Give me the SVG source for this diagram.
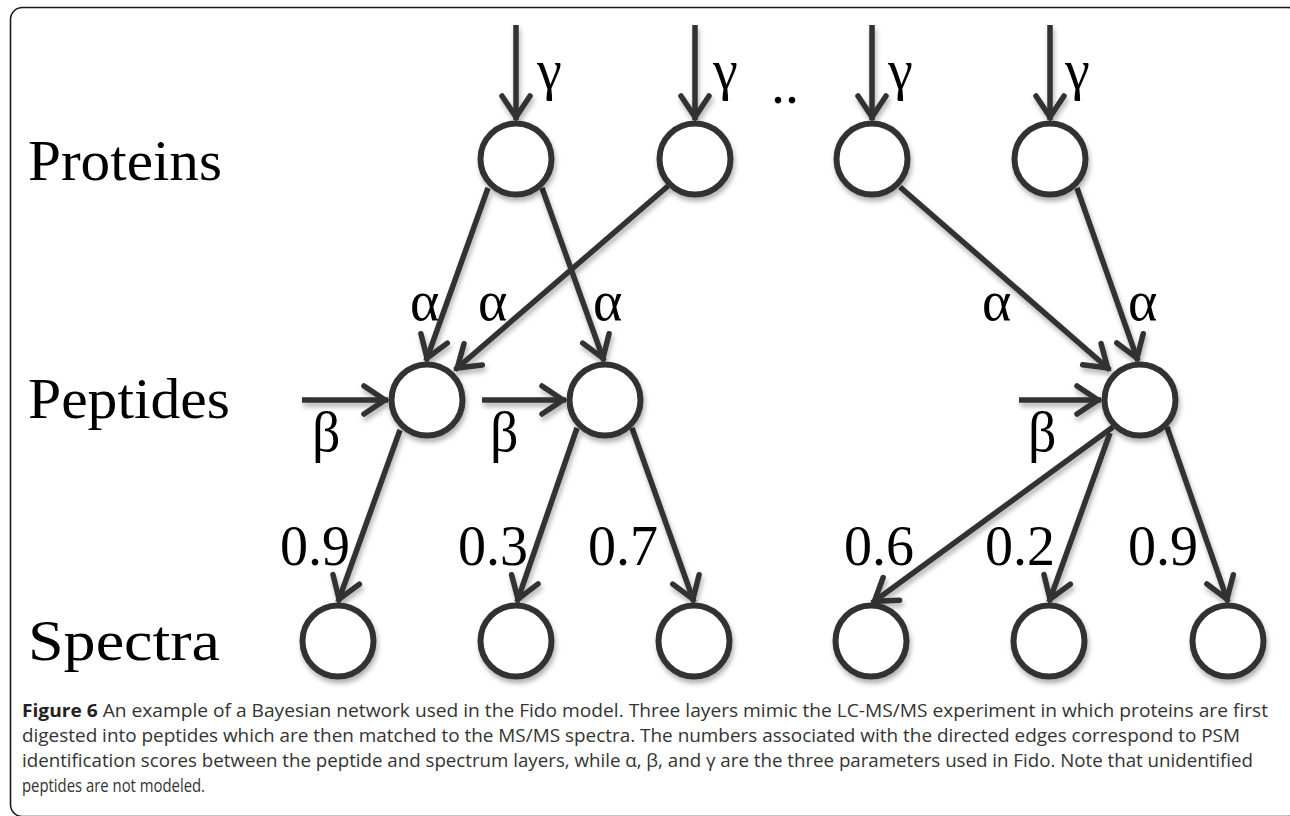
<svg xmlns="http://www.w3.org/2000/svg" width="1290" height="816" viewBox="0 0 1290 816">
<style>
.bg{fill:#ffffff}
.frame{fill:none;stroke:#1a1a1a;stroke-width:1.6}
.node{fill:#ffffff;stroke:#333333;stroke-width:6}
.edge{fill:none;stroke:#333333;stroke-width:5.5;stroke-linecap:butt}
.lbl{font-family:"Liberation Serif","Times New Roman",serif;font-size:56px;fill:#000000}
.sym{font-family:"Liberation Serif","Times New Roman",serif;font-size:56px;fill:#000000}
.cap{font-family:"Open Sans","Noto Sans",sans-serif;font-size:18px;fill:#333333}
.capb{font-weight:bold;fill:#222222}
.shadow{filter:url(#sh)}
</style>
<defs>
<filter id="sh" x="-20%" y="-20%" width="140%" height="140%">
<feDropShadow dx="1.5" dy="4" stdDeviation="2.5" flood-color="#000000" flood-opacity="0.3"/>
</filter>
<marker id="ah" markerUnits="userSpaceOnUse" markerWidth="40" markerHeight="40" refX="0" refY="0" orient="auto" overflow="visible">
<path d="M-24,-14 L-3,0 L-24,14" fill="none" stroke="#333333" stroke-width="5.5" stroke-linecap="round" stroke-linejoin="miter"/>
</marker>
</defs>
<rect class="bg" x="0" y="0" width="1290" height="816"/>
<rect class="frame" x="10.5" y="7.5" width="1290" height="809" rx="12" ry="12"/>

<g id="layer-labels">
<text class="lbl" x="28" y="180" textLength="194" lengthAdjust="spacingAndGlyphs">Proteins</text>
<text class="lbl" x="28" y="418" textLength="202" lengthAdjust="spacingAndGlyphs">Peptides</text>
<text class="lbl" x="28" y="660" textLength="192" lengthAdjust="spacingAndGlyphs">Spectra</text>
</g>

<g id="connectors" class="shadow">
<line class="edge" x1="516" y1="25" x2="516" y2="120" marker-end="url(#ah)"/>
<line class="edge" x1="695" y1="25" x2="695" y2="120" marker-end="url(#ah)"/>
<line class="edge" x1="872" y1="25" x2="872" y2="120" marker-end="url(#ah)"/>
<line class="edge" x1="1050" y1="25" x2="1050" y2="120" marker-end="url(#ah)"/>
<line class="edge" x1="488" y1="188" x2="426" y2="361" marker-end="url(#ah)"/>
<line class="edge" x1="542" y1="188" x2="604" y2="361" marker-end="url(#ah)"/>
<line class="edge" x1="668" y1="186" x2="455" y2="370" marker-end="url(#ah)"/>
<line class="edge" x1="900" y1="187" x2="1110" y2="370" marker-end="url(#ah)"/>
<line class="edge" x1="1077" y1="188" x2="1138" y2="361" marker-end="url(#ah)"/>
<line class="edge" x1="302" y1="400" x2="388" y2="400" marker-end="url(#ah)"/>
<line class="edge" x1="482" y1="400" x2="566" y2="400" marker-end="url(#ah)"/>
<line class="edge" x1="1019" y1="400" x2="1101" y2="400" marker-end="url(#ah)"/>
<line class="edge" x1="400" y1="430" x2="338" y2="602" marker-end="url(#ah)"/>
<line class="edge" x1="577" y1="428" x2="517" y2="602" marker-end="url(#ah)"/>
<line class="edge" x1="632" y1="428" x2="694" y2="602" marker-end="url(#ah)"/>
<line class="edge" x1="1113" y1="427" x2="872" y2="603" marker-end="url(#ah)"/>
<line class="edge" x1="1110" y1="433" x2="1049" y2="602" marker-end="url(#ah)"/>
<line class="edge" x1="1167" y1="427" x2="1228" y2="602" marker-end="url(#ah)"/>
</g>

<g id="connector-labels">
<text class="sym" x="537" y="89">γ</text>
<text class="sym" x="713" y="89">γ</text>
<text class="sym" x="888" y="89">γ</text>
<text class="sym" x="1065" y="89">γ</text>
<text class="sym" x="771" y="103">..</text>
<text class="sym" x="410" y="320">α</text>
<text class="sym" x="478" y="320">α</text>
<text class="sym" x="593" y="320">α</text>
<text class="sym" x="982" y="320">α</text>
<text class="sym" x="1128" y="320">α</text>
<text class="sym" x="312" y="451">β</text>
<text class="sym" x="490" y="451">β</text>
<text class="sym" x="1028" y="451">β</text>
<text class="sym" x="280" y="565">0.9</text>
<text class="sym" x="458" y="565">0.3</text>
<text class="sym" x="588" y="565">0.7</text>
<text class="sym" x="844" y="565">0.6</text>
<text class="sym" x="985" y="565">0.2</text>
<text class="sym" x="1128" y="565">0.9</text>
</g>

<g id="protein-1" class="shadow"><circle class="node" cx="516" cy="159" r="35.5"/></g>
<g id="protein-2" class="shadow"><circle class="node" cx="695" cy="159" r="35.5"/></g>
<g id="protein-3" class="shadow"><circle class="node" cx="872" cy="159" r="35.5"/></g>
<g id="protein-4" class="shadow"><circle class="node" cx="1050" cy="159" r="35.5"/></g>
<g id="peptide-1" class="shadow"><circle class="node" cx="427" cy="400" r="35.5"/></g>
<g id="peptide-2" class="shadow"><circle class="node" cx="605" cy="400" r="35.5"/></g>
<g id="peptide-3" class="shadow"><circle class="node" cx="1140" cy="400" r="35.5"/></g>
<g id="spectrum-1" class="shadow"><circle class="node" cx="338" cy="641" r="35.5"/></g>
<g id="spectrum-2" class="shadow"><circle class="node" cx="516" cy="641" r="35.5"/></g>
<g id="spectrum-3" class="shadow"><circle class="node" cx="694" cy="641" r="35.5"/></g>
<g id="spectrum-4" class="shadow"><circle class="node" cx="871" cy="641" r="35.5"/></g>
<g id="spectrum-5" class="shadow"><circle class="node" cx="1049" cy="641" r="35.5"/></g>
<g id="spectrum-6" class="shadow"><circle class="node" cx="1228" cy="641" r="35.5"/></g>

<g id="caption">
<text class="cap" x="22" y="717" textLength="1246" lengthAdjust="spacingAndGlyphs"><tspan class="capb">Figure 6</tspan> An example of a Bayesian network used in the Fido model. Three layers mimic the LC-MS/MS experiment in which proteins are first</text>
<text class="cap" x="22" y="742" textLength="1218" lengthAdjust="spacingAndGlyphs">digested into peptides which are then matched to the MS/MS spectra. The numbers associated with the directed edges correspond to PSM</text>
<text class="cap" x="22" y="767" textLength="1231" lengthAdjust="spacingAndGlyphs">identification scores between the peptide and spectrum layers, while α, β, and γ are the three parameters used in Fido. Note that unidentified</text>
<text class="cap" x="22" y="792" textLength="183" lengthAdjust="spacingAndGlyphs">peptides are not modeled.</text>
</g>
</svg>
